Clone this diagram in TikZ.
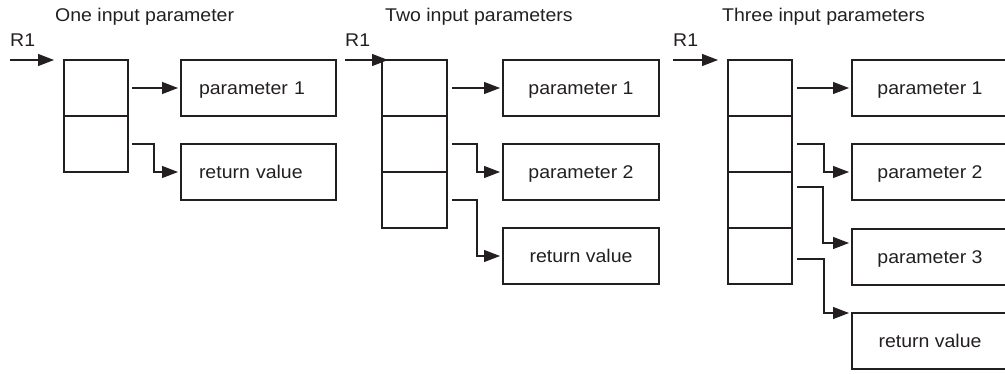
\documentclass[tikz,border=0pt]{standalone}
\usepackage{fontspec}
\setmainfont{Liberation Sans}[FakeStretch=1.06]
\usetikzlibrary{arrows.meta,calc}
\definecolor{ink}{HTML}{231F20}
\begin{document}
\begin{tikzpicture}[x=1pt,y=-1pt,
  every node/.style={text=ink, font=\fontsize{18.4}{21}\selectfont},
  cell/.style={draw=ink, line width=1.2pt, minimum width=64pt, minimum height=56pt,
    inner sep=0pt, outer sep=0pt, anchor=north west},
  outbox/.style={draw=ink, line width=1.2pt, minimum width=156pt, minimum height=56pt,
    inner sep=0pt, outer sep=0pt, anchor=north west, text height=13pt, text depth=0pt},
  leftlabel/.style={text width=119pt, align=left, inner xsep=18pt, minimum width=155pt},
  link/.style={draw=ink, line width=1.2pt, -{Triangle[length=16pt,width=12pt]}},
  title/.style={anchor=base west, inner sep=0pt}]
\clip (0,0) rectangle (1005,373);

% ---- one input parameter ----
\node[title] (t1) at (55,21.5) {One input parameter};
\node[title] (ra) at (10,46.5) {R1};
\coordinate (ra-s) at (10,60);
\coordinate (ra-e) at (54,60);
\draw[link] (ra-s) -- (ra-e);
\node[cell] (a1) at (64,60) {};
\node[cell] (a2) at (64,116) {};
\node[outbox, leftlabel] (pa1) at (181,60) {parameter 1};
\node[outbox, leftlabel] (va) at (181,144) {return value};
\draw[link] ([xshift=4pt]a1.east) -- ([xshift=-3pt]pa1.west);
\draw[link] ([xshift=4pt]a2.east) -- ++(22,0) |- ([xshift=-3pt]va.west);

% ---- two input parameters ----
\node[title] (t2) at (385,21.5) {Two input parameters};
\node[title] (rb) at (345,46.5) {R1};
\coordinate (rb-s) at (345,60);
\coordinate (rb-e) at (388,60);
\node[cell, minimum width=65pt] (b1) at (382,60) {};
\node[cell, minimum width=65pt] (b2) at (382,116) {};
\node[cell, minimum width=65pt] (b3) at (382,172) {};
\draw[link] (rb-s) -- (rb-e);
\node[outbox] (pb1) at (503,60) {parameter 1};
\node[outbox] (pb2) at (503,144) {parameter 2};
\node[outbox] (vb) at (503,228) {return value};
\draw[link] ([xshift=5pt]b1.east) -- ([xshift=-3pt]pb1.west);
\draw[link] ([xshift=5pt]b2.east) -- ++(25,0) |- ([xshift=-3pt]pb2.west);
\draw[link] ([xshift=5pt]b3.east) -- ++(25,0) |- ([xshift=-3pt]vb.west);

% ---- three input parameters ----
\node[title] (t3) at (722,21.5) {Three input parameters};
\node[title] (rc) at (673,46.5) {R1};
\coordinate (rc-s) at (673,60);
\coordinate (rc-e) at (718,60);
\draw[link] (rc-s) -- (rc-e);
\node[cell] (c1) at (728,60) {};
\node[cell] (c2) at (728,116) {};
\node[cell] (c3) at (728,172) {};
\node[cell] (c4) at (728,228) {};
\node[outbox] (pc1) at (852,60) {parameter 1};
\node[outbox] (pc2) at (852,144) {parameter 2};
\node[outbox] (pc3) at (852,229) {parameter 3};
\node[outbox] (vc) at (852,313) {return value};
\draw[link] ([xshift=5pt]c1.east) -- ([xshift=-3pt]pc1.west);
\draw[link] ([xshift=5pt]c2.east) -- ++(27,0) |- ([xshift=-3pt]pc2.west);
\draw[link] ([xshift=5pt,yshift=13pt]c3.east) -- ++(26,0) |- ([xshift=-3pt,yshift=-14pt]pc3.north west);
\draw[link] ([xshift=5pt,yshift=-3pt]c4.east) -- ++(27,0) |- ([xshift=-3pt]vc.north west);
\end{tikzpicture}
\end{document}
